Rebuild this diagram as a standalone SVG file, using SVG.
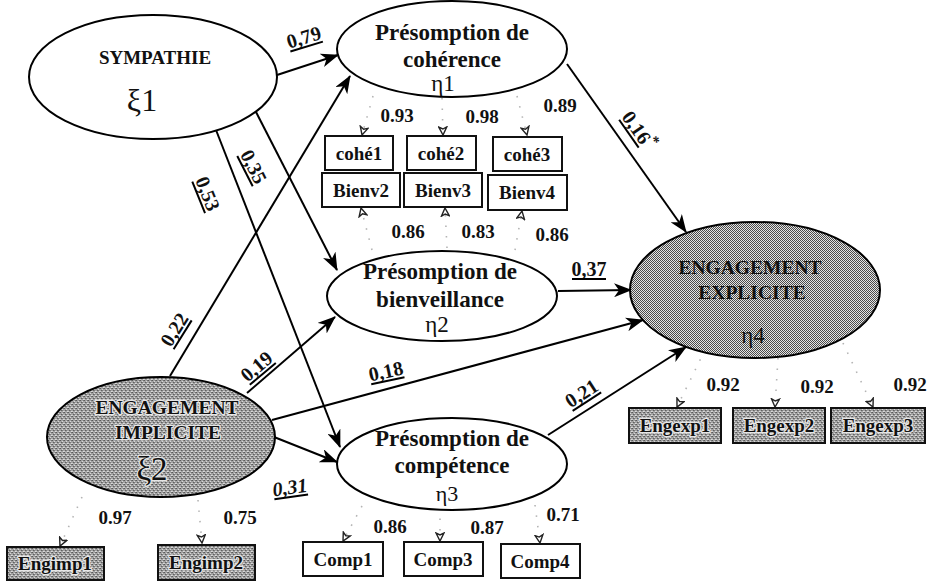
<svg xmlns="http://www.w3.org/2000/svg" width="930" height="582" viewBox="0 0 930 582">
<style>
.ell{stroke:#000;stroke-width:2}
.t{font-family:"Liberation Serif",serif;font-weight:bold;fill:#111;text-anchor:middle}
.big{font-size:23px}
.lab{font-size:19px}
.coef{font-size:20px}
.greek{font-family:"Liberation Serif",serif;font-weight:normal;fill:#111;text-anchor:middle}
.box{fill:#fff;stroke:#111;stroke-width:2}
.gbox{fill:url(#noise);stroke:#111;stroke-width:2}
.halo{stroke:#e6e6e6;stroke-width:2.5;paint-order:stroke;stroke-linejoin:round}
.conn{stroke:#000;stroke-width:2;fill:none;marker-end:url(#ah)}
.dot{stroke:#b4b4b4;stroke-width:1.6;fill:none;stroke-dasharray:1.5 9;marker-end:url(#oh)}
.ul{stroke:#000;stroke-width:2}
</style>
<defs>
<pattern id="dither" width="2" height="2" patternUnits="userSpaceOnUse">
<rect width="2" height="2" fill="#e4e4e4"/>
<rect width="1" height="1" fill="#4a4a4a"/>
<rect x="1" y="1" width="1" height="1" fill="#4a4a4a"/>
</pattern>
<pattern id="noise" width="4" height="4" patternUnits="userSpaceOnUse">
<rect width="4" height="4" fill="#a2a2a2"/>
<rect x="0" y="0" width="1" height="1" fill="#5a5a5a"/>
<rect x="2" y="1" width="1" height="1" fill="#d8d8d8"/>
<rect x="1" y="2" width="1" height="1" fill="#606060"/>
<rect x="3" y="3" width="1" height="1" fill="#dcdcdc"/>
<rect x="3" y="0" width="1" height="1" fill="#707070"/>
<rect x="0" y="3" width="1" height="1" fill="#cfcfcf"/>
<rect x="2" y="2" width="1" height="1" fill="#7a7a7a"/>
</pattern>
<marker id="ah" viewBox="0 0 18 14" refX="17" refY="7" markerWidth="18" markerHeight="14" markerUnits="userSpaceOnUse" orient="auto">
<path d="M0,0 L18,7 L0,14 L5,7 z" fill="#000"/>
</marker>
<marker id="oh" viewBox="0 0 10 10" refX="9" refY="5" markerWidth="10" markerHeight="10" markerUnits="userSpaceOnUse" orient="auto">
<path d="M1,1 L9,5 L1,9 L3,5 z" fill="#fff" stroke="#222" stroke-width="1.4"/>
</marker>
</defs>
<rect width="930" height="582" fill="#fff"/>

<g id="connectors">
<path class="conn" d="M277,75 L338,55"/>
<path class="conn" d="M170,376 L350,76"/>
<path class="conn" d="M255,110 L337,270"/>
<path class="conn" d="M216,130 L340,447"/>
<path class="conn" d="M247,393 L335,317"/>
<path class="conn" d="M272,420 L643,320"/>
<path class="conn" d="M274,437 L337,462"/>
<path class="conn" d="M567,64 L686,232"/>
<path class="conn" d="M558,291 L631,290"/>
<path class="conn" d="M548,435 L686,347"/>
<path class="dot" d="M373,96 L362,135"/>
<path class="dot" d="M442,98 L443,135"/>
<path class="dot" d="M517,96 L527,135"/>
<path class="dot" d="M372,250 L361,208"/>
<path class="dot" d="M447,248 L445,208"/>
<path class="dot" d="M515,250 L522,211"/>
<path class="dot" d="M362,506 L343,541"/>
<path class="dot" d="M440,508 L440,541"/>
<path class="dot" d="M535,505 L540,543"/>
<path class="dot" d="M82,497 L60,546"/>
<path class="dot" d="M198,500 L202,543"/>
<path class="dot" d="M705,350 L677,407"/>
<path class="dot" d="M778,358 L775,407"/>
<path class="dot" d="M843,343 L873,407"/>
</g>

<g id="coef-labels">
<g transform="translate(304,38) rotate(-17)"><text class="t coef" x="0" y="6">0,79</text><line class="ul" x1="-17" y1="9" x2="17" y2="9"/></g>
<g transform="translate(175,330) rotate(-58)"><text class="t coef" x="0" y="6">0,22</text><line class="ul" x1="-17" y1="9" x2="17" y2="9"/></g>
<g transform="translate(253,167) rotate(63)"><text class="t coef" x="0" y="6">0,35</text><line class="ul" x1="-17" y1="9" x2="17" y2="9"/></g>
<g transform="translate(207,194) rotate(68)"><text class="t coef" x="0" y="6">0,53</text><line class="ul" x1="-17" y1="9" x2="17" y2="9"/></g>
<g transform="translate(257,367) rotate(-40)"><text class="t coef" x="0" y="6">0,19</text><line class="ul" x1="-17" y1="9" x2="17" y2="9"/></g>
<g transform="translate(386,372) rotate(-12)"><text class="t coef" x="0" y="6">0,18</text><line class="ul" x1="-17" y1="9" x2="17" y2="9"/></g>
<g transform="translate(290,488) rotate(-8)"><text class="t coef" x="0" y="6" font-style="italic">0,31</text><line class="ul" x1="-17" y1="9" x2="17" y2="9"/></g>
<g transform="translate(638,131) rotate(55)"><text class="t coef" x="0" y="6">0,16<tspan dy="-9" font-size="15">*</tspan></text><line class="ul" x1="-20" y1="9" x2="14" y2="9"/></g>
<g transform="translate(589,270)"><text class="t coef" x="0" y="6">0,37</text><line class="ul" x1="-17" y1="9" x2="17" y2="9"/></g>
<g transform="translate(582,394) rotate(-33)"><text class="t coef" x="0" y="6">0,21</text><line class="ul" x1="-17" y1="9" x2="17" y2="9"/></g>
</g>

<g id="loading-labels" class="t lab">
<text x="397" y="122">0.93</text>
<text x="482" y="123">0.98</text>
<text x="560" y="112">0.89</text>
<text x="408" y="238">0.86</text>
<text x="478" y="238">0.83</text>
<text x="552" y="241">0.86</text>
<text x="115" y="524">0.97</text>
<text x="240" y="524">0.75</text>
<text x="390" y="533">0.86</text>
<text x="487" y="534">0.87</text>
<text x="563" y="521">0.71</text>
<text x="723" y="391">0.92</text>
<text x="817" y="393">0.92</text>
<text x="910" y="391">0.92</text>
</g>

<g id="sympathie">
<ellipse class="ell" cx="153" cy="77" rx="124" ry="62" fill="#fff"/>
<text class="t" x="155" y="64" font-size="19">SYMPATHIE</text>
<text class="greek" x="142" y="111" font-size="32">ξ1</text>
</g>

<g id="coherence">
<ellipse class="ell" cx="452" cy="49" rx="115" ry="48" fill="#fff"/>
<text class="t big" x="452" y="40">Présomption de</text>
<text class="t big" x="452" y="67">cohérence</text>
<text class="greek" x="443" y="91" font-size="23">η1</text>
</g>

<g id="bienveillance">
<ellipse class="ell" cx="442" cy="296" rx="115" ry="45" fill="#fff"/>
<text class="t big" x="440" y="279">Présomption de</text>
<text class="t big" x="440" y="307">bienveillance</text>
<text class="greek" x="437" y="332" font-size="23">η2</text>
</g>

<g id="competence">
<ellipse class="ell" cx="452" cy="464" rx="115" ry="46" fill="#fff"/>
<text class="t big" x="452" y="446">Présomption de</text>
<text class="t big" x="452" y="473">compétence</text>
<text class="greek" x="447" y="501" font-size="22">η3</text>
</g>

<g id="explicite">
<ellipse class="ell" cx="755" cy="290" rx="125" ry="68" fill="url(#dither)"/>
<text class="t" x="750" y="274" font-size="19.5">ENGAGEMENT</text>
<text class="t" x="752" y="299" font-size="19.5">EXPLICITE</text>
<text class="greek" x="753" y="343" font-size="23">η4</text>
</g>

<g id="implicite">
<ellipse class="ell" cx="161" cy="437" rx="114" ry="60" fill="url(#noise)"/>
<text class="t halo" x="167" y="414" font-size="19.5">ENGAGEMENT</text>
<text class="t halo" x="168" y="439" font-size="19.5">IMPLICITE</text>
<text class="greek halo" x="152" y="480" font-size="33">ξ2</text>
</g>

<g id="cohe1"><rect class="box" x="325" y="136" width="68" height="34"/><text class="t lab" x="359" y="160">cohé1</text></g>
<g id="cohe2"><rect class="box" x="407" y="136" width="69" height="34"/><text class="t lab" x="441" y="160">cohé2</text></g>
<g id="cohe3"><rect class="box" x="493" y="137" width="69" height="34"/><text class="t lab" x="527" y="161">cohé3</text></g>
<g id="bienv2"><rect class="box" x="322" y="173" width="78" height="34"/><text class="t lab" x="361" y="197">Bienv2</text></g>
<g id="bienv3"><rect class="box" x="404" y="173" width="78" height="34"/><text class="t lab" x="443" y="197">Bienv3</text></g>
<g id="bienv4"><rect class="box" x="488" y="175" width="79" height="35"/><text class="t lab" x="527" y="199">Bienv4</text></g>

<g id="comp1"><rect class="box" x="303" y="542" width="80" height="34"/><text class="t lab" x="343" y="566">Comp1</text></g>
<g id="comp3"><rect class="box" x="404" y="542" width="79" height="34"/><text class="t lab" x="443" y="566">Comp3</text></g>
<g id="comp4"><rect class="box" x="501" y="544" width="79" height="34"/><text class="t lab" x="540" y="568">Comp4</text></g>

<g id="engimp1"><rect class="gbox" x="7" y="547" width="97" height="33"/><text class="t lab halo" x="55" y="570">Engimp1</text></g>
<g id="engimp2"><rect class="gbox" x="158" y="545" width="97" height="35"/><text class="t lab halo" x="206" y="569">Engimp2</text></g>

<g id="engexp1"><rect class="gbox" x="629" y="408" width="92" height="35"/><text class="t lab halo" x="675" y="432">Engexp1</text></g>
<g id="engexp2"><rect class="gbox" x="733" y="408" width="92" height="35"/><text class="t lab halo" x="779" y="432">Engexp2</text></g>
<g id="engexp3"><rect class="gbox" x="831" y="408" width="94" height="35"/><text class="t lab halo" x="878" y="432">Engexp3</text></g>
</svg>
